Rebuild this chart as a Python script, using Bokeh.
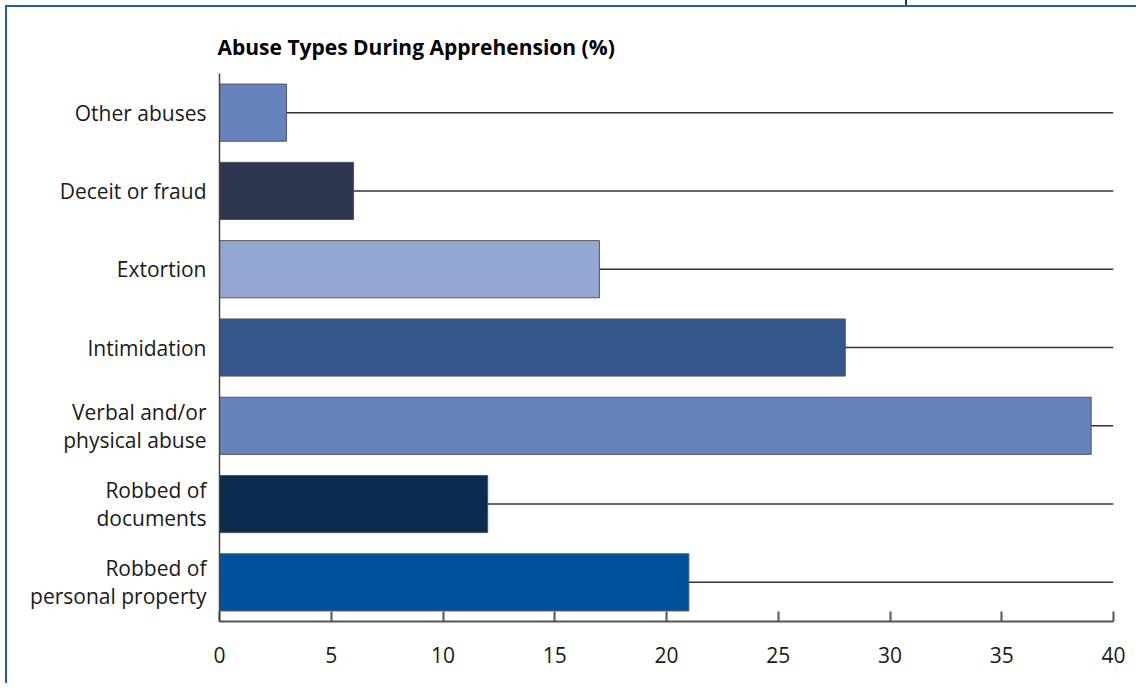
from bokeh.plotting import figure
from bokeh.models import FactorRange, Range1d, ColumnDataSource, FixedTicker, BoxAnnotation
from bokeh.embed import file_html
from bokeh.resources import INLINE

categories = ["Robbed of\npersonal property", "Robbed of\ndocuments", "Verbal and/or\nphysical abuse",
              "Intimidation", "Extortion", "Deceit or fraud", "Other abuses"]
values = [21, 12, 39, 28, 17, 6, 3]
colors = ["#00529c", "#0b2c4e", "#6783bd", "#34568a", "#94a6d2", "#2e3650", "#6783bd"]
x_ticks = [0, 5, 10, 15, 20, 25, 30, 35, 40]
title_text = "Abuse Types During Apprehension (%)"

FONT = "Open Sans"
BLUE = "#1f5fa8"

src = ColumnDataSource(dict(cat=categories, val=values, color=colors,
                            zero=[0] * len(categories), end=[40] * len(categories)))

p = figure(width=1136, height=683, output_backend="svg", toolbar_location=None,
           y_range=FactorRange(factors=categories, range_padding=0),
           x_range=Range1d(0, 40),
           min_border_left=219, min_border_right=23, min_border_top=73, min_border_bottom=62)
p.border_fill_color = None
p.background_fill_color = "white"
p.styles = {
    "background": f"linear-gradient({BLUE},{BLUE}) 5px 5px / 100% 2px no-repeat, "
                  f"linear-gradient({BLUE},{BLUE}) 5px 5px / 2px 100% no-repeat, "
                  f"linear-gradient(#333333,#333333) 905px 0px / 2px 5px no-repeat, white"
}

p.title.text = title_text
p.title.text_font = FONT
p.title.text_font_style = "bold"
p.title.text_font_size = "21px"
p.title.text_color = "#000000"
p.title.align = "left"
p.title.offset = -2
p.title.standoff = 25

p.segment(x0="zero", y0="cat", x1="end", y1="cat", source=src, line_color="#333333", line_width=1.5)
p.hbar(y="cat", left=0, right="val", height=0.73, source=src, fill_color="color",
       line_color="#555555", line_width=1)

p.xgrid.visible = False
p.ygrid.visible = False
p.outline_line_color = None

p.xaxis.ticker = FixedTicker(ticks=x_ticks)
p.xaxis.major_tick_in = 10
p.xaxis.major_tick_out = 0
p.xaxis.minor_tick_line_color = None
p.xaxis.axis_line_color = "#555555"
p.xaxis.axis_line_width = 2
p.xaxis.major_tick_line_color = "#555555"
p.xaxis.major_tick_line_width = 2
p.xaxis.major_label_text_font = FONT
p.xaxis.major_label_text_font_size = "21px"
p.xaxis.major_label_text_color = "#1a1a1a"
p.xaxis.major_label_standoff = 25

p.yaxis.major_tick_line_color = None
p.yaxis.minor_tick_line_color = None
p.yaxis.axis_line_color = "#444444"
p.yaxis.axis_line_width = 1.5
p.yaxis.major_label_text_font = FONT
p.yaxis.major_label_text_font_size = "21px"
p.yaxis.major_label_text_line_height = 1.0
p.yaxis.major_label_text_color = "#1a1a1a"
p.yaxis.major_label_standoff = 7

p.add_layout(BoxAnnotation(left=5, right=1136, top=5, bottom=7, left_units="canvas", right_units="canvas",
                           top_units="canvas", bottom_units="canvas", fill_color=BLUE,
                           fill_alpha=1, line_color=None, level="overlay"))
p.add_layout(BoxAnnotation(left=5, right=7, top=5, bottom=683, left_units="canvas", right_units="canvas",
                           top_units="canvas", bottom_units="canvas", fill_color=BLUE,
                           fill_alpha=1, line_color=None, level="overlay"))

open("out.html", "w").write(file_html(p, INLINE))
